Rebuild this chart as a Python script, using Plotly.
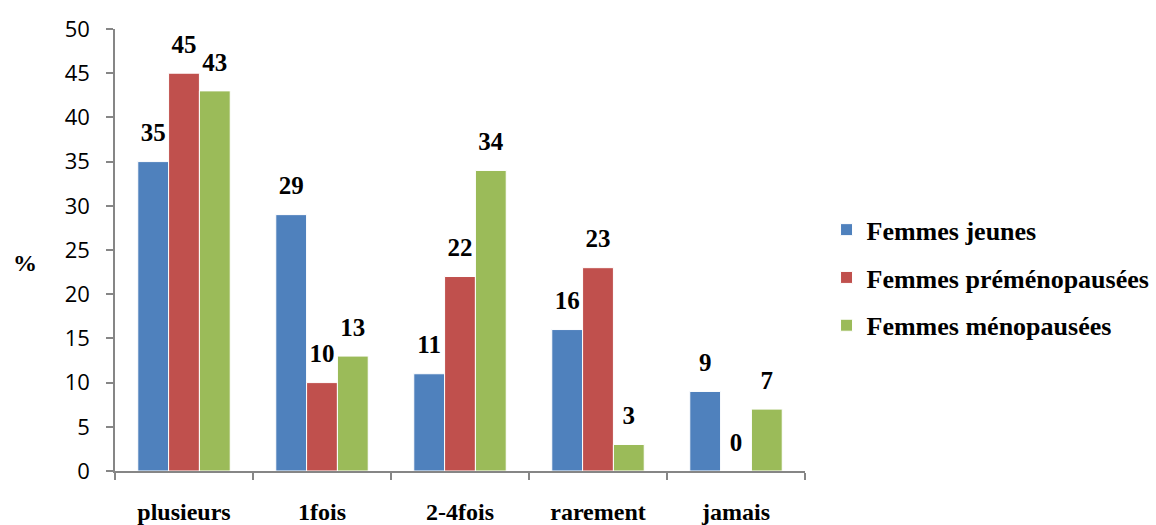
import plotly.graph_objects as go

categories = ["plusieurs", "1fois", "2-4fois", "rarement", "jamais"]
series_names = ["Femmes jeunes", "Femmes préménopausées", "Femmes ménopausées"]
jeunes = [35, 29, 11, 16, 9]
premeno = [45, 10, 22, 23, 0]
meno = [43, 13, 34, 3, 7]
y_ticks = [0, 5, 10, 15, 20, 25, 30, 35, 40, 45, 50]

colors = ["#4F81BD", "#C0504D", "#9BBB59"]
serif = "Liberation Serif, Times New Roman, serif"

fig = go.Figure()
for i, (name, vals, col) in enumerate(zip(series_names, [jeunes, premeno, meno], colors)):
    fig.add_trace(go.Bar(
        x=categories, y=vals, name=name, legendgroup=name,
        offsetgroup=str(i), alignmentgroup="a",
        marker=dict(color=col, line=dict(color="white", width=1)),
    ))
for i, (name, vals) in enumerate(zip(series_names, [jeunes, premeno, meno])):
    fig.add_trace(go.Scatter(
        x=categories, y=vals, mode="markers+text", showlegend=False, hoverinfo="skip",
        offsetgroup=str(i), alignmentgroup="a",
        text=[str(v) for v in vals], textposition="top center",
        textfont=dict(family=serif, size=25, color="black", weight="bold"),
        marker=dict(size=21, opacity=0),
        cliponaxis=False,
    ))

fig.update_layout(
    width=1156, height=525,
    margin=dict(l=115, r=351, t=29, b=54, autoexpand=False),
    paper_bgcolor="white", plot_bgcolor="white",
    barmode="group", bargap=0.33, bargroupgap=0,
    scattermode="group", scattergap=0.33,
    showlegend=True,
    legend=dict(
        xref="container", yref="container",
        x=0.715, y=0.471, xanchor="left", yanchor="middle",
        font=dict(family=serif, size=26, color="black", weight="bold"),
        traceorder="grouped", tracegroupgap=11,
        itemwidth=30, bgcolor="rgba(0,0,0,0)",
    ),
    xaxis=dict(
        type="category", showline=True, linecolor="#868686", linewidth=1.5,
        ticks="outside", tickson="boundaries", ticklen=7, tickcolor="#868686",
        tickwidth=1.5, ticklabelstandoff=18, automargin=False,
        tickfont=dict(family=serif, size=24, color="black", weight="bold"),
        showgrid=False,
    ),
    yaxis=dict(
        range=[0, 50], tickvals=y_ticks, showline=True, linecolor="#868686",
        linewidth=1.5, ticks="outside", ticklen=7, tickcolor="#868686",
        tickwidth=1.5, ticklabelstandoff=12, automargin=False,
        tickfont=dict(family="Open Sans, DejaVu Sans, sans-serif", size=22, color="black"),
        showgrid=False, zeroline=False,
    ),
)

fig.add_annotation(
    text="%", xref="paper", yref="paper", x=-0.13, y=0.47,
    showarrow=False, xanchor="center", yanchor="middle",
    font=dict(family=serif, size=24, color="black", weight="bold"),
)

fig.write_html("out.html")
